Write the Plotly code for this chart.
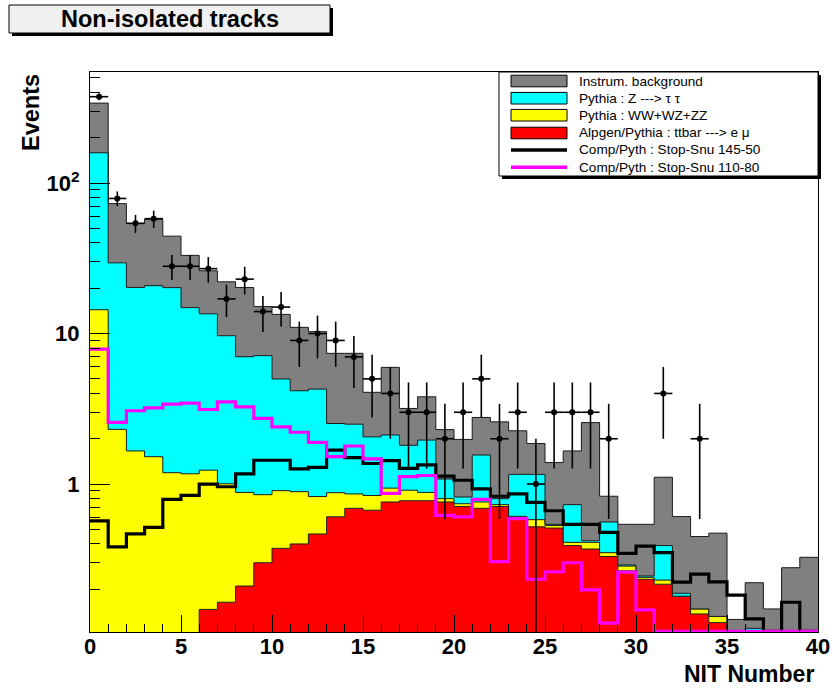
import numpy as np
import plotly.graph_objects as go

# ---------------- data (per bin, NIT Number 0..39, bin width 1) ----------------
bin_edges = list(range(0, 41))

ttbar = [0, 0, 0, 0, 0, 0, 0.147, 0.164, 0.21, 0.30, 0.374, 0.40, 0.466, 0.606, 0.69, 0.67,
         0.76, 0.775, 0.775, 0.76, 0.71, 0.69, 0.71, 0.59, 0.52, 0.51, 0.39, 0.37, 0.33, 0.265,
         0.233, 0.216, 0.18, 0.137, 0.12, 0, 0, 0, 0, 0]
diboson = [14.4, 2.31, 1.66, 1.52, 1.19, 1.17, 1.09, 0.84, 0.67, 0.55, 0.53, 0.49, 0.36, 0.27,
           0.17, 0.17, 0.18, 0.135, 0.105, 0.04, 0.03, 0.07, 0.02, 0.02, 0.06, 0.02, 0.02, 0.04,
           0.02, 0.02, 0.007, 0.014, 0.0, 0.011, 0.012, 0, 0, 0, 0, 0]
ztautau = [144.6, 27.2, 18.6, 19.3, 19.0, 13.7, 12.3, 8.67, 6.14, 6.28, 4.09, 3.28, 3.45, 1.65,
           1.64, 1.22, 1.18, 0.90, 1.08, 0.28, 0.08, 0.80, 0.07, 0.55, 0.58, 0.01, 0.32, 0.01,
           0.21, 0.005, 0.005, 0.16, 0.008, 0, 0, 0, 0.11, 0, 0, 0]
instrum = [181, 43.5, 33.7, 36.8, 24.2, 18.2, 12.6, 12.4, 13.2, 7.98, 8.41, 6.83, 6.02, 4.86,
           4.89, 2.01, 3.84, 1.37, 1.84, 1.22, 1.16, 1.21, 1.79, 1.10, 0.70, 0.85, 0.93, 2.14,
           0.27, 0.25, 0.295, 0.72, 0.42, 0.30, 0.34, 0.126, 0.111, 0.148, 0.278, 0.326]
stop_145_50 = [0.57, 0.383, 0.466, 0.515, 0.79, 0.84, 1.0, 0.96, 1.17, 1.44, 1.44, 1.26, 1.29,
               1.68, 1.50, 1.37, 1.43, 1.27, 1.34, 1.13, 1.06, 0.93, 0.83, 0.86, 0.755, 0.665,
               0.54, 0.54, 0.478, 0.346, 0.387, 0.35, 0.223, 0.252, 0.224, 0.183, 0.127, 0,
               0.164, 0]
stop_110_80 = [7.89, 2.57, 3.07, 3.21, 3.40, 3.45, 3.13, 3.52, 3.26, 2.73, 2.40, 2.21, 1.89,
               1.52, 1.79, 1.47, 0.867, 1.12, 1.14, 0.62, 0.606, 0.79, 0.305, 0.59, 0.233,
               0.261, 0.30, 0.198, 0.119, 0.26, 0.146, 0, 0, 0, 0, 0, 0, 0, 0, 0]
data_counts = [375, 79, 54, 58, 28, 28, 27, 17, 23, 14, 15, 9, 10, 9, 7, 5, 4, 3, 3, 2, 3, 5, 2,
               3, 1, 3, 3, 3, 2, 0, 0, 4, 0, 2, 0, 0, 0, 0, 0, 0]

x_ticks = [0, 5, 10, 15, 20, 25, 30, 35, 40]
y_ticks = [1, 10, 100]
y_ticktext = ["1", "10", "10<sup>2</sup>"]

legend_labels = ["Instrum. background", "Pythia : Z ---> τ τ", "Pythia : WW+WZ+ZZ",
                 "Alpgen/Pythia : ttbar ---> e μ", "Comp/Pyth : Stop-Snu 145-50",
                 "Comp/Pyth : Stop-Snu 110-80"]

# ---------------- geometry ----------------
W, H = 834, 690
L, R, T, B = 90, 16, 72, 58
PW, PH = W - L - R, H - T - B
YLOG = (-0.983, 2.738)
FLOOR = 10 ** YLOG[0]
TINY = 1e-3
FONT = "Liberation Sans"


def xp(px):
    return (px - L) / PW


def yp(py):
    return (H - B - py) / PH


def stepy(v):
    v = list(v)
    return v + [v[-1]]


edges = np.array(bin_edges, dtype=float)
centers = (edges[:-1] + edges[1:]) / 2

c_red = np.array(ttbar)
c_yel = c_red + np.array(diboson)
c_cyan = c_yel + np.array(ztautau)
c_gray = c_cyan + np.array(instrum)

fig = go.Figure()
fig.add_trace(go.Scatter(x=edges, y=stepy(np.full(40, TINY)), mode="lines",
                         line=dict(width=0, shape="hv"), showlegend=False, hoverinfo="skip"))
for cum, col in [(c_red, "#ff0000"), (c_yel, "#ffff00"), (c_cyan, "#00ffff"), (c_gray, "#808080")]:
    fig.add_trace(go.Scatter(x=edges, y=stepy(np.maximum(cum, TINY)), mode="lines",
                             line=dict(color="#1a1a1a", width=1, shape="hv"),
                             fill="tonexty", fillcolor=col, showlegend=False))

for vals, col in [(stop_145_50, "#000000"), (stop_110_80, "#ff00ff")]:
    fig.add_trace(go.Scatter(x=edges, y=stepy(np.maximum(np.array(vals), FLOOR * 1.01)),
                             mode="lines", line=dict(color=col, width=3.2, shape="hv"),
                             showlegend=False))

n = np.array(data_counts, dtype=float)
m = n > 0
err = np.sqrt(n[m])
errm = np.minimum(err, n[m] * 0.9999)
fig.add_trace(go.Scatter(x=centers[m], y=n[m], mode="markers",
                         marker=dict(color="black", size=6, symbol="circle"),
                         error_y=dict(type="data", array=err, arrayminus=errm, symmetric=False,
                                      color="black", thickness=1.6, width=0),
                         error_x=dict(type="constant", value=0.5, color="black",
                                      thickness=1.6, width=0),
                         showlegend=False))

shapes = []
annotations = []

# title box
shapes.append(dict(type="rect", xref="paper", yref="paper", x0=xp(12), x1=xp(333), y0=yp(36),
                   y1=yp(8), line=dict(width=0), fillcolor="#000000", layer="above"))
shapes.append(dict(type="rect", xref="paper", yref="paper", x0=xp(9), x1=xp(330), y0=yp(33),
                   y1=yp(5), line=dict(color="#000000", width=1), fillcolor="#f0f0f0",
                   layer="above"))
annotations.append(dict(text="Non-isolated tracks", xref="paper", yref="paper", x=xp(170),
                        y=yp(19), xanchor="center", yanchor="middle", showarrow=False,
                        font=dict(family=FONT, size=23.5, color="black", weight="bold")))

# legend box
lx0, lx1, ly0, ly1 = 499, 818, 72, 176
shapes.append(dict(type="rect", xref="paper", yref="paper", x0=xp(lx0 + 3), x1=xp(lx1 + 3),
                   y0=yp(ly1 + 3), y1=yp(ly0 + 3), line=dict(width=0), fillcolor="#000000",
                   layer="above"))
shapes.append(dict(type="rect", xref="paper", yref="paper", x0=xp(lx0), x1=xp(lx1), y0=yp(ly1),
                   y1=yp(ly0), line=dict(color="#000000", width=1), fillcolor="#ffffff",
                   layer="above"))
rows = [81, 98.2, 115.2, 133, 150, 167.3]
fills = ["#808080", "#00ffff", "#ffff00", "#ff0000"]
for i, (ry, lab) in enumerate(zip(rows, legend_labels)):
    if i < 4:
        shapes.append(dict(type="rect", xref="paper", yref="paper", x0=xp(511), x1=xp(567),
                           y0=yp(ry + 5.8), y1=yp(ry - 5.8),
                           line=dict(color="#000000", width=1), fillcolor=fills[i],
                           layer="above"))
    else:
        shapes.append(dict(type="line", xref="paper", yref="paper", x0=xp(511), x1=xp(567),
                           y0=yp(ry), y1=yp(ry),
                           line=dict(color="#000000" if i == 4 else "#ff00ff", width=3.5),
                           layer="above"))
    annotations.append(dict(text=lab, xref="paper", yref="paper", x=xp(577), y=yp(ry),
                            xanchor="left", yanchor="middle", showarrow=False,
                            font=dict(family=FONT, size=13.6, color="black")))

# axis titles
annotations.append(dict(text="Events", xref="paper", yref="paper", x=xp(31), y=yp(113),
                        xanchor="center", yanchor="middle", textangle=-90, showarrow=False,
                        font=dict(family=FONT, size=23.5, color="black", weight="bold")))
annotations.append(dict(text="NIT Number", xref="paper", yref="paper", x=xp(816), y=yp(674),
                        xanchor="right", yanchor="middle", showarrow=False,
                        font=dict(family=FONT, size=23, color="black", weight="bold")))

minor_y = [k * 10 ** e for e in (-1, 0, 1, 2) for k in range(2, 10) if k * 10 ** e < 550]

fig.update_layout(
    template="none",
    width=W, height=H, margin=dict(l=L, r=R, t=T, b=B, pad=0),
    paper_bgcolor="white", plot_bgcolor="white", showlegend=False,
    shapes=shapes, annotations=annotations,
    xaxis=dict(range=[0, 40], tickvals=x_ticks, ticks="inside", ticklen=17, tickwidth=1,
               tickcolor="black", showline=True, linecolor="black", linewidth=1, mirror=True,
               showgrid=False, zeroline=False, automargin=False, ticklabelstandoff=-5,
               tickfont=dict(family=FONT, size=22, color="black", weight="bold"),
               minor=dict(dtick=1, ticks="inside", ticklen=8, tickcolor="black", tickwidth=1,
                          showgrid=False)),
    yaxis=dict(type="log", range=list(YLOG), tickvals=y_ticks, ticktext=y_ticktext,
               ticks="inside", ticklen=20, tickwidth=1, tickcolor="black", showline=True,
               linecolor="black", linewidth=1, mirror=True, showgrid=False, zeroline=False,
               ticklabelstandoff=5, automargin=False,
               tickfont=dict(family=FONT, size=22, color="black", weight="bold"),
               minor=dict(tickvals=minor_y, ticks="inside", ticklen=10, tickcolor="black",
                          tickwidth=1, showgrid=False)),
)

fig.write_html("out.html", config={"displayModeBar": False},
               post_script="document.body.style.margin='0px';document.body.style.padding='0px';")
